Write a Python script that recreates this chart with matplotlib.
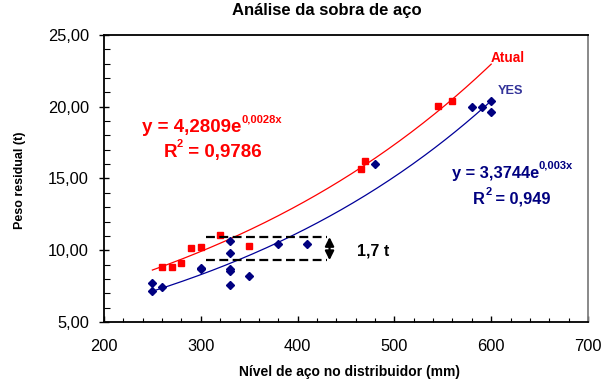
import numpy as np
from matplotlib import pyplot as plt
from matplotlib.ticker import MultipleLocator, FuncFormatter

plt.rcParams['font.family'] = ['Liberation Sans', 'DejaVu Sans']

# Atual (red squares)
atual_x = [260, 270, 280, 290, 300, 320, 350, 465, 470, 545, 560]
atual_y = [8.84, 8.84, 9.10, 10.19, 10.23, 11.09, 10.28, 15.67, 16.25, 20.02, 20.37]

# YES (blue diamonds)
yes_x = [250, 250, 260, 300, 300, 330, 330, 330, 330, 330, 350, 380, 410, 480, 580, 590, 600, 600]
yes_y = [7.71, 7.13, 7.43, 8.78, 8.66, 10.65, 9.84, 8.68, 8.54, 7.57, 8.24, 10.47, 10.42, 16.02, 19.95, 19.95, 20.42, 19.60]

# trendlines y = a*e^(b*x), as printed on the chart
atual_a, atual_b = 4.2809, 0.0028
yes_a, yes_b = 3.3744, 0.003
fit_range = (250, 600)

# band showing the 1,7 t difference
band_x = (305, 430)
band_y = (9.31, 10.92)

red = '#FF0000'
navy = '#000080'

fig = plt.figure(figsize=(6.02, 3.79), dpi=100)
ax = fig.add_axes([104/602, 1-322/379, 484/602, 287/379])

xx = np.linspace(fit_range[0], fit_range[1], 200)
ax.plot(xx, atual_a*np.exp(atual_b*xx), color=red, lw=0.9)
ax.plot(xx, yes_a*np.exp(yes_b*xx), color='#000099', lw=0.9)

ax.plot(atual_x, atual_y, 's', color=red, ms=5, mec=red)
ax.plot(yes_x, yes_y, 'D', color=navy, ms=4.2, mec=navy)

# dashed band + double arrow
for yv in band_y:
    ax.plot(band_x, [yv, yv], color='black', lw=1.6, ls=(0, (4, 2)))
ax.annotate('', xy=(433, band_y[0]), xytext=(433, band_y[1]),
            arrowprops=dict(arrowstyle='<|-|>', color='black', lw=1.6,
                            mutation_scale=13, shrinkA=0, shrinkB=0))
ax.text(461, 9.95, '1,7 t', fontsize=11.5, fontweight='bold', va='center', ha='left')

# series labels
ax.text(599, 23.38, 'Atual', color=red, fontsize=9.8, fontweight='bold', va='center')
ax.text(607, 21.11, 'YES', color='#333399', fontsize=9.2, fontweight='bold', va='center')


def sup_text(x, y, base, sup, rest, color, size, sup_size):
    # base text, raised superscript, then the remaining text
    t = ax.text(x, y, base, color=color, fontsize=size, fontweight='bold', va='center')
    s = ax.annotate(sup, xy=(1, 1.0), xycoords=t, color=color, fontsize=sup_size,
                    fontweight='bold', va='center', ha='left')
    if rest:
        ax.annotate(rest, xy=(1, 0.5), xycoords=(s, t), color=color, fontsize=size,
                    fontweight='bold', va='center', ha='left')


# equations
sup_text(239, 18.52, 'y = 4,2809e', '0,0028x', '', red, 13.5, 8)
sup_text(261.3, 16.78, 'R', '2', ' = 0,9786', red, 13.5, 8)
sup_text(559, 15.35, 'y = 3,3744e', '0,003x', '', navy, 11.8, 8)
sup_text(581.5, 13.54, 'R', '2', ' = 0,949', navy, 11.8, 8)

ax.set_xlim(200, 700)
ax.set_ylim(5, 25)
ax.xaxis.set_major_locator(MultipleLocator(100))
ax.xaxis.set_minor_locator(MultipleLocator(20))
ax.yaxis.set_major_locator(MultipleLocator(5))
ax.yaxis.set_minor_locator(MultipleLocator(1))
ax.yaxis.set_major_formatter(FuncFormatter(lambda v, p: f'{v:.2f}'.replace('.', ',')))

ax.tick_params(axis='x', which='major', direction='in', length=4.5, width=1, pad=12, labelsize=11.8)
ax.tick_params(axis='x', which='minor', direction='in', length=3, width=0.8)
ax.tick_params(axis='y', which='major', direction='inout', length=7, width=1, pad=7.3, labelsize=11.8)
ax.tick_params(axis='y', which='minor', direction='in', length=4, width=0.8)

for s in ['left', 'bottom', 'top']:
    ax.spines[s].set_linewidth(1.3)
ax.spines['right'].set_color('#808080')
ax.spines['right'].set_linewidth(1.3)

ax.set_title('Análise da sobra de aço', fontsize=12, fontweight='bold',
             x=0.46, y=(322-19)/287, va='center')
ax.set_xlabel('Nível de aço no distribuidor (mm)', fontsize=10, fontweight='bold')
ax.xaxis.set_label_coords(0.508, (322-372)/287)
ax.xaxis.label.set_va('center')
ax.set_ylabel('Peso residual (t)', fontsize=9, fontweight='bold')
ax.yaxis.set_label_coords((20-104)/484, (322-180)/287)
ax.yaxis.label.set_va('center')

fig.savefig('out.png', dpi=100)
